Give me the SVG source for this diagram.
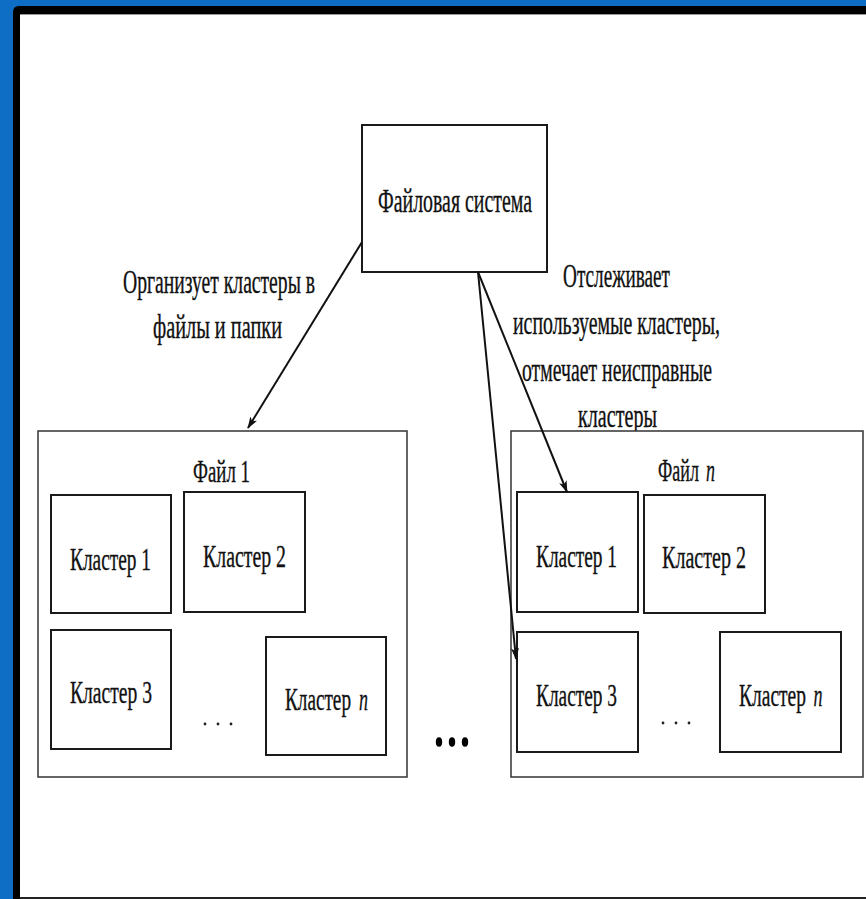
<svg xmlns="http://www.w3.org/2000/svg" width="866" height="899" viewBox="0 0 866 899">
<defs>
<style>
.t{font-family:"Liberation Serif","Times New Roman",serif;fill:#111;text-anchor:middle;stroke:#111;stroke-width:0.35}
.ti{font-family:"Liberation Serif","Times New Roman",serif;font-style:italic;fill:#111;text-anchor:middle;stroke:#111;stroke-width:0.3}
.box{fill:#fff;stroke:#1a1a1a;stroke-width:2}
.cont{fill:#fff;stroke:#333;stroke-width:1.5}
.con{stroke:#111;stroke-width:2;fill:none}
</style>
<marker id="ah" viewBox="0 0 12 8" refX="11" refY="4" markerWidth="12" markerHeight="8" markerUnits="userSpaceOnUse" orient="auto">
<path d="M0,0 L12,4 L0,8 L3,4 z" fill="#111"/>
</marker>
</defs>
<!-- frame -->
<rect x="0" y="0" width="866" height="899" fill="#0E6EC6"/>
<path d="M13,899 V12 Q13,6 19,6 H866 V899 z" fill="#000"/>
<rect x="20" y="14" width="846" height="884" fill="#fff"/>
<line x1="20" y1="14.5" x2="866" y2="14.5" stroke="#999" stroke-width="1"/>
<line x1="20" y1="898" x2="866" y2="898" stroke="#222" stroke-width="2"/>

<g id="fs">
<rect class="box" x="362" y="125" width="185" height="147"/>
<text class="t" x="455" y="212" font-size="33" textLength="154" lengthAdjust="spacingAndGlyphs">Файловая система</text>
</g>

<g id="label-left">
<text class="t" x="219" y="293" font-size="33" textLength="192" lengthAdjust="spacingAndGlyphs">Организует кластеры в</text>
<text class="t" x="217.5" y="338" font-size="33" textLength="129" lengthAdjust="spacingAndGlyphs">файлы и папки</text>
</g>

<g id="label-right">
<text class="t" x="616.5" y="287" font-size="33" textLength="107" lengthAdjust="spacingAndGlyphs">Отслеживает</text>
<text class="t" x="616.5" y="334" font-size="33" textLength="207" lengthAdjust="spacingAndGlyphs">используемые кластеры,</text>
<text class="t" x="617" y="381" font-size="33" textLength="190" lengthAdjust="spacingAndGlyphs">отмечает неисправные</text>
<text class="t" x="617.5" y="427" font-size="33" textLength="79" lengthAdjust="spacingAndGlyphs">кластеры</text>
</g>

<g id="file1">
<rect class="cont" x="38" y="431" width="369" height="346"/>
<text class="t" x="221.5" y="482" font-size="31" textLength="57" lengthAdjust="spacingAndGlyphs">Файл 1</text>
<g id="f1c1"><rect class="box" x="51" y="495" width="120" height="118"/>
<text class="t" x="110.5" y="570" font-size="31" textLength="81" lengthAdjust="spacingAndGlyphs">Кластер 1</text></g>
<g id="f1c2"><rect class="box" x="184" y="492" width="121" height="120"/>
<text class="t" x="244.5" y="567" font-size="31" textLength="83" lengthAdjust="spacingAndGlyphs">Кластер 2</text></g>
<g id="f1c3"><rect class="box" x="51" y="630" width="120" height="119"/>
<text class="t" x="111" y="703" font-size="31" textLength="82" lengthAdjust="spacingAndGlyphs">Кластер 3</text></g>
<g id="f1cn"><rect class="box" x="266" y="637" width="120" height="118"/>
<text class="t" transform="translate(318,710) scale(0.62,1)" x="0" y="0" font-size="31" textLength="106.5" lengthAdjust="spacingAndGlyphs">Кластер</text>
<text class="ti" transform="translate(363.5,710) scale(0.62,1)" x="0" y="0" font-size="31" textLength="14.5" lengthAdjust="spacingAndGlyphs">n</text></g>
<g fill="#222"><circle cx="205" cy="724" r="1.4"/><circle cx="218" cy="724" r="1.4"/><circle cx="231" cy="724" r="1.4"/></g>
</g>

<g id="filen">
<rect class="cont" x="511" y="431" width="352" height="346"/>
<text class="t" transform="translate(678.5,481) scale(0.62,1)" x="0" y="0" font-size="31" textLength="66" lengthAdjust="spacingAndGlyphs">Файл</text>
<text class="ti" transform="translate(710.5,481) scale(0.62,1)" x="0" y="0" font-size="31" textLength="14.5" lengthAdjust="spacingAndGlyphs" fill="#666" stroke="#666">n</text>
<g id="fnc1"><rect class="box" x="517" y="492" width="121" height="120"/>
<text class="t" x="576.5" y="567" font-size="31" textLength="81" lengthAdjust="spacingAndGlyphs">Кластер 1</text></g>
<g id="fnc2"><rect class="box" x="644" y="495" width="121" height="118"/>
<text class="t" x="704" y="568" font-size="31" textLength="84" lengthAdjust="spacingAndGlyphs">Кластер 2</text></g>
<g id="fnc3"><rect class="box" x="517" y="632" width="121" height="120"/>
<text class="t" x="576.5" y="706" font-size="31" textLength="81" lengthAdjust="spacingAndGlyphs">Кластер 3</text></g>
<g id="fncn"><rect class="box" x="720" y="632" width="121" height="120"/>
<text class="t" transform="translate(772.5,706) scale(0.62,1)" x="0" y="0" font-size="31" textLength="108" lengthAdjust="spacingAndGlyphs">Кластер</text>
<text class="ti" transform="translate(818,706) scale(0.62,1)" x="0" y="0" font-size="31" textLength="14.5" lengthAdjust="spacingAndGlyphs">n</text></g>
<g fill="#222"><circle cx="663" cy="723" r="1.4"/><circle cx="676" cy="723" r="1.4"/><circle cx="689" cy="723" r="1.4"/></g>
</g>

<g id="ellipsis" fill="#000">
<ellipse cx="439" cy="742" rx="3.2" ry="4.8"/>
<ellipse cx="452" cy="742" rx="3.2" ry="4.8"/>
<ellipse cx="465" cy="742" rx="3.2" ry="4.8"/>
</g>

<g id="connectors">
<line class="con" x1="362" y1="242" x2="248" y2="428" marker-end="url(#ah)"/>
<line class="con" x1="478" y1="272" x2="567" y2="492" marker-end="url(#ah)"/>
<line class="con" x1="478" y1="272" x2="516" y2="659" marker-end="url(#ah)"/>
</g>
</svg>
